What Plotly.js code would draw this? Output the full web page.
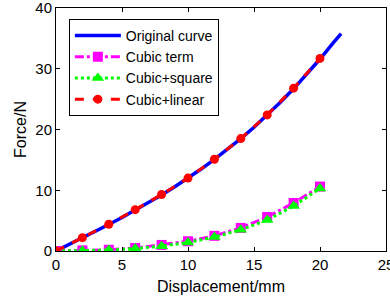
<!DOCTYPE html>
<html><head><meta charset="utf-8">
<script src="https://cdn.plot.ly/plotly-3.0.1.min.js"></script>
<style>body{margin:0;background:#fff}#c{width:390px;height:298px}</style>
</head><body><div id="c"></div>
<script>
const curveX = [0,1,2,3,4,5,6,7,8,9,10,11,12,13,14,15,16,17,18,19,20,21,21.6];
const curveY = [0,1.07,2.16,3.25,4.37,5.52,6.71,7.95,9.23,10.58,12.0,13.49,15.07,16.73,18.5,20.37,22.36,24.47,26.7,29.08,31.6,34.27,35.8];
const pointX = [0,2,4,6,8,10,12,14,16,18,20];
const cubicTerm = [0,0.1,0.2,0.5,1.0,1.6,2.5,3.8,5.6,7.9,10.6];
const cubicSquare = [0,0.05,0.15,0.4,0.8,1.4,2.3,3.5,5.1,7.4,10.3];
const cubicLinear = [0,2.2,4.4,6.8,9.3,12.0,15.1,18.5,22.4,26.8,31.7];
const names = ['Original curve','Cubic term','Cubic+square','Cubic+linear'];
const xTicks = [0,5,10,15,20,25];
const yTicks = [0,10,20,30,40];

const traces = [
  {x: curveX, y: curveY, name: names[0], mode:'lines', line:{color:'#0000ff', width:3.5}},
  {x: pointX, y: cubicTerm, name: names[1], mode:'lines+markers', line:{color:'#ff00ff', width:3, dash:'dashdot'}, marker:{symbol:'square', size:10, color:'#ff00ff'}},
  {x: pointX, y: cubicSquare, name: names[2], mode:'lines+markers', line:{color:'#00ff00', width:3, dash:'dot'}, marker:{symbol:'triangle-up', size:11, color:'#00ff00'}},
  {x: pointX, y: cubicLinear, name: names[3], mode:'lines+markers', line:{color:'#ff0000', width:3, dash:'dash'}, marker:{symbol:'circle', size:9, color:'#ff0000'}}
];
const axisCommon = {showgrid:false, zeroline:false, showline:true, linecolor:'#000', linewidth:1, mirror:'ticks', ticks:'inside', ticklen:4, tickcolor:'#000', ticklabeloverflow:'allow', tickfont:{family:'Liberation Sans, Arial', size:15, color:'#000'}};
const layout = {
  width:390, height:298,
  margin:{l:56, r:4, t:8, b:47},
  paper_bgcolor:'#fff', plot_bgcolor:'#fff',
  font:{family:'Liberation Sans, Arial', color:'#000'},
  xaxis: Object.assign({}, axisCommon, {range:[0,25], tickvals:xTicks, title:{text:'Displacement/mm', font:{size:16}, standoff:8}}),
  yaxis: Object.assign({}, axisCommon, {range:[0,40], tickvals:yTicks, title:{text:'Force/N', font:{size:16}, standoff:4}}),
  showlegend:true,
  legend:{x:0.039, y:0.955, xanchor:'left', yanchor:'top', bgcolor:'#fff', bordercolor:'#000', borderwidth:1, font:{size:14, color:'#000'}, itemwidth:46, tracegroupgap:0}
};
Plotly.newPlot('c', traces, layout, {displayModeBar:false, staticPlot:true});
</script></body></html>
